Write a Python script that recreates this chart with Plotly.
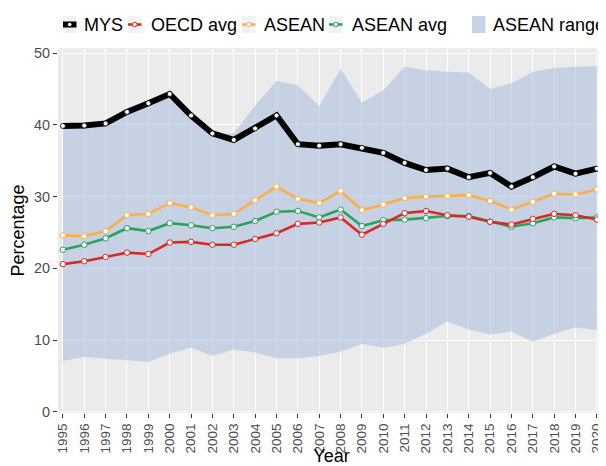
import plotly.graph_objects as go

years = list(range(1995, 2021))
year_labels = [str(y) for y in years]
mys = [39.85, 39.9, 40.2, 41.8, 43.0, 44.3, 41.3, 38.8, 37.9, 39.5, 41.3, 37.3, 37.1,
       37.3, 36.8, 36.1, 34.7, 33.7, 33.9, 32.7, 33.3, 31.4, 32.7, 34.2, 33.2, 33.9]
oecd_avg = [20.6, 21.0, 21.6, 22.2, 22.0, 23.6, 23.7, 23.3, 23.3, 24.1, 24.9, 26.2, 26.4,
            27.1, 24.7, 26.2, 27.7, 28.0, 27.4, 27.2, 26.5, 26.1, 26.9, 27.6, 27.4, 26.8]
asean = [24.6, 24.5, 25.2, 27.4, 27.6, 29.1, 28.5, 27.4, 27.6, 29.5, 31.4, 29.7, 29.1,
         30.8, 28.1, 28.9, 29.8, 30.0, 30.1, 30.2, 29.4, 28.2, 29.3, 30.4, 30.3, 31.0]
asean_avg = [22.6, 23.3, 24.2, 25.6, 25.2, 26.3, 26.0, 25.6, 25.8, 26.6, 27.9, 28.0, 27.1,
             28.2, 25.9, 26.7, 26.8, 27.0, 27.3, 27.3, 26.5, 25.8, 26.3, 27.1, 27.0, 27.1]
range_upper = [39.85, 39.9, 40.2, 41.8, 43.0, 44.3, 41.3, 38.8, 38.8, 42.7, 46.1, 45.5, 42.6,
               47.8, 43.1, 44.8, 48.1, 47.6, 47.4, 47.3, 45.0, 45.8, 47.4, 47.9, 48.1, 48.2]
range_lower = [7.1, 7.7, 7.4, 7.2, 7.0, 8.1, 9.0, 7.8, 8.7, 8.3, 7.5, 7.5, 7.8,
               8.4, 9.5, 8.9, 9.5, 10.9, 12.6, 11.5, 10.8, 11.2, 9.8, 10.9, 11.8, 11.4]
y_ticks = [0, 10, 20, 30, 40, 50]

C_MYS = "#000000"
C_OECD = "#D62B22"
C_ASEAN = "#FDAE4B"
C_AVG = "#2CA25F"
C_RANGE = "rgba(176,196,222,0.62)"
FONT = "Liberation Sans, Arial, sans-serif"

# page has an 8px body margin; figure drawn from (8, 8) of the window
OFF = 8
W, H = 606 - OFF, 466 - OFF
ML, MR, MT, MB = 58 - OFF, 1, 48 - OFF, 53
PW, PH = W - ML - MR, H - MT - MB


def px(x):
    # x in window pixels
    return (x - OFF - ML) / PW


def py(y):
    # y in window pixels
    return (H - MB - (y - OFF)) / PH


fig = go.Figure()
fig.add_trace(go.Scatter(x=years, y=range_lower, mode="lines", line=dict(width=0),
                         showlegend=False, hoverinfo="skip"))
fig.add_trace(go.Scatter(x=years, y=range_upper, mode="lines", line=dict(width=0),
                         fill="tonexty", fillcolor=C_RANGE, name="ASEAN range",
                         showlegend=False))


def series(vals, color, name, width, msize, mline):
    fig.add_trace(go.Scatter(
        x=years, y=vals, mode="lines+markers", name=name, showlegend=False,
        line=dict(color=color, width=width),
        marker=dict(size=msize, color="white", line=dict(color=color, width=mline))))


series(asean, C_ASEAN, "ASEAN", 2.6, 5.5, 1)
series(asean_avg, C_AVG, "ASEAN avg", 2.6, 5.5, 1)
series(oecd_avg, C_OECD, "OECD avg", 2.6, 5.5, 1)
series(mys, C_MYS, "MYS", 6, 5, 0.8)

# manual ggplot-style legend
shapes = []
annotations = []
legend_items = [
    ("MYS", 63, 82, C_MYS, "line6"),
    ("OECD avg", 128, 149, C_OECD, "line"),
    ("ASEAN", 242, 262, C_ASEAN, "line"),
    ("ASEAN avg", 329, 350, C_AVG, "line"),
    ("ASEAN range", 472, 491, C_RANGE, "fill"),
]
ky_c = 24.5
kw, kh = 13.5, 17
for label, kx, tx, col, kind in legend_items:
    if kind == "fill":
        shapes.append(dict(type="rect", xref="paper", yref="paper", x0=px(kx), x1=px(kx + kw),
                           y0=py(ky_c + kh / 2), y1=py(ky_c - kh / 2),
                           fillcolor="#C8D4E6", line=dict(width=0)))
    else:
        shapes.append(dict(type="rect", xref="paper", yref="paper", x0=px(kx), x1=px(kx + kw),
                           y0=py(ky_c + kh / 2), y1=py(ky_c - kh / 2),
                           fillcolor="#F2F2F2", line=dict(width=0)))
        lw = 6 if kind == "line6" else 2.6
        shapes.append(dict(type="line", xref="paper", yref="paper", x0=px(kx), x1=px(kx + kw),
                           y0=py(ky_c), y1=py(ky_c), line=dict(color=col, width=lw)))
        r = 2.3
        cx = kx + kw / 2
        shapes.append(dict(type="circle", xref="paper", yref="paper",
                           x0=px(cx - r), x1=px(cx + r), y0=py(ky_c + r), y1=py(ky_c - r),
                           fillcolor="white", line=dict(color=col, width=1)))
    annotations.append(dict(text=label, xref="paper", yref="paper", x=px(tx), y=py(ky_c),
                            xanchor="left", yanchor="middle", showarrow=False,
                            font=dict(family=FONT, size=18, color="black")))

fig.update_layout(
    width=W, height=H,
    margin=dict(l=ML, r=MR, t=MT, b=MB),
    paper_bgcolor="white", plot_bgcolor="#EBEBEB",
    font=dict(family=FONT, color="black"),
    showlegend=False,
    shapes=shapes, annotations=annotations,
    xaxis=dict(range=[1994.77, 2020.38], tickmode="array", tickvals=years, ticktext=year_labels,
               tickangle=-90, tickfont=dict(size=13.5, color="#4D4D4D"),
               ticklabeloverflow="allow",
               ticks="outside", ticklen=4, tickcolor="#333333", tickwidth=1,
               showgrid=True, gridcolor="white", gridwidth=1.1, zeroline=False, showline=False,
               title=dict(text="Year", font=dict(size=18, color="black"), standoff=8),
               automargin=False),
    yaxis=dict(range=[-0.14, 50.7], tickmode="array", tickvals=y_ticks,
               ticktext=[str(v) for v in y_ticks],
               tickfont=dict(size=14.4, color="#4D4D4D"),
               ticks="outside", ticklen=4, tickcolor="#333333", tickwidth=1,
               showgrid=True, gridcolor="white", gridwidth=1.1, zeroline=False, showline=False,
               title=dict(text="Percentage", font=dict(size=18, color="black"), standoff=4),
               automargin=False),
)

fig.write_html("out.html")
